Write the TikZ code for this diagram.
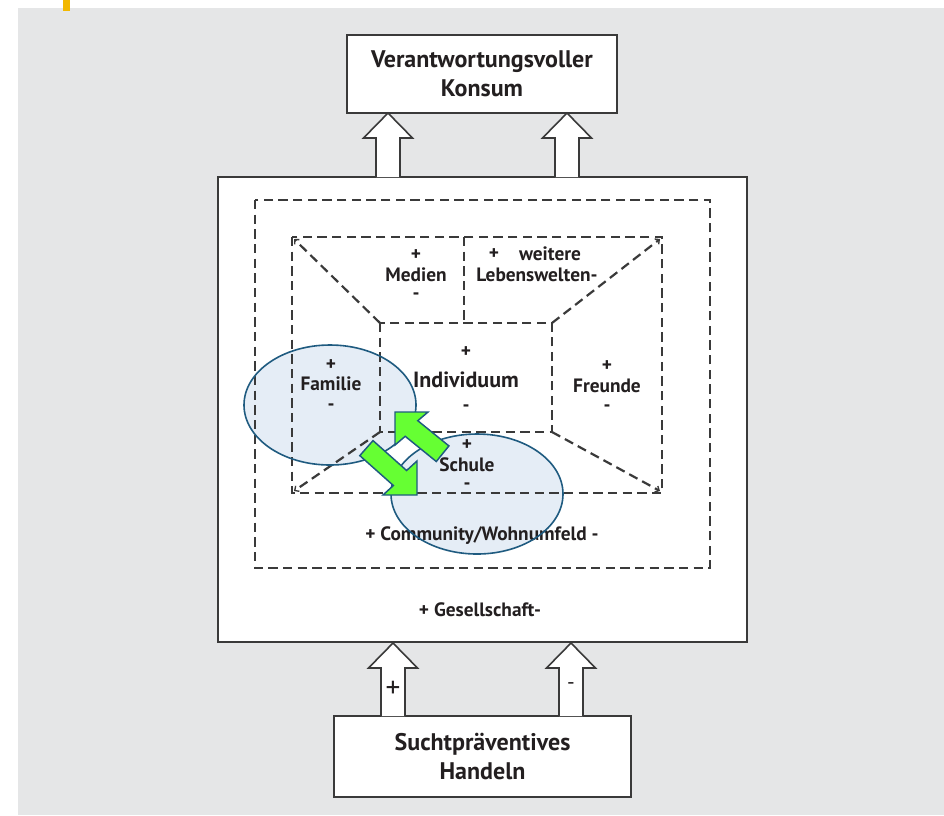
\documentclass[tikz,border=0pt]{standalone}
\usepackage{fontspec}
\setmainfont{PT Sans}
\usetikzlibrary{arrows.meta}
\definecolor{bgcol}{HTML}{E5E6E7}
\definecolor{yellowmark}{HTML}{F2B800}
\definecolor{ln}{HTML}{3A3A3A}
\definecolor{txt}{HTML}{231F20}
\definecolor{ellfill}{HTML}{E5EDF6}
\definecolor{elldraw}{HTML}{1F5B80}
\definecolor{grn}{HTML}{66FF33}
\tikzset{
  box/.style={draw=ln, line width=1.5pt, fill=white, inner sep=0pt},
  hollow/.style={draw=ln, line width=1.2pt, fill=white, line join=miter},
  dsh/.style={draw=ln, line width=1.65pt, dash pattern=on 7pt off 4pt},
  dtip/.style={-{Straight Barb[length=2.5pt,width=5pt,line width=1pt]}},
  title/.style={font=\bfseries\fontsize{18}{21.5}\selectfont, text=txt, align=center, inner sep=0pt},
  lab/.style={font=\bfseries\fontsize{14.5}{15}\selectfont, text=txt, inner sep=0pt},
  biglab/.style={font=\bfseries\fontsize{16.5}{17}\selectfont, text=txt, inner sep=0pt},
  ell/.style={draw=elldraw, line width=1.2pt},
  garrow/.style={draw=elldraw, line width=1.1pt, fill=grn, line join=miter}
}
\newcommand{\myhollow}[3]{% x, tip y, base y
  \draw[hollow] (#1-12,#3) -- (#1-12,#2+25) -- (#1-24.5,#2+25) -- (#1,#2) -- (#1+24.5,#2+25) -- (#1+12,#2+25) -- (#1+12,#3);
}
\begin{document}
\begin{tikzpicture}[x=0.75pt,y=-0.75pt]
\useasboundingbox (0,0) rectangle (944,815);
\fill[white] (0,0) rectangle (944,815);
\fill[bgcol] (18,8) rectangle (944,815);
\fill[yellowmark] (63,0) rectangle (70,11);

% boxes
\node[box, minimum width=202.5pt, minimum height=58.5pt] (konsum) at (482,74) {};
\node[title] (konsumtxt) at (482,74) {Verantwortungsvoller\\Konsum};
\node[box, minimum width=396.75pt, minimum height=348.75pt] (gesell) at (482.5,409.5) {};
\node[box, minimum width=222.75pt, minimum height=60.75pt] (sucht) at (482.5,756.5) {};
\node[title] (suchttxt) at (482.5,756.5) {Suchtpräventives\\Handeln};

% hollow arrows
\myhollow{388}{113}{177}
\myhollow{567}{113}{177}
\myhollow{393}{643}{716}
\myhollow{571}{643}{716}
\node[font=\fontsize{22}{22}\selectfont, text=txt, inner sep=0pt] (plus) at (393,689) {+};
\node[font=\fontsize{16}{16}\selectfont, text=txt, inner sep=0pt] (minus) at (571,686) {-};

% ellipse fills
\fill[ellfill] (330,405) ellipse [x radius=86, y radius=60];
\fill[ellfill] (477,494) ellipse [x radius=86, y radius=60];

% dashed structure
\draw[dsh] (255,200) rectangle (710,568);
\draw[dsh] (292,237) rectangle (662,493);
\draw[dsh] (380,323) rectangle (552,432);
\draw[dsh] (464,237) -- (464,323);
\draw[dsh,dtip] (380,323) -- (294,239);
\draw[dsh,dtip] (552,323) -- (660,239);
\draw[dsh,dtip] (380,432) -- (294,491);
\draw[dsh,dtip] (552,432) -- (660,491);

% labels
\node[lab] (m1) at (416,255) {+};
\node[lab] (m2) at (416,275) {Medien};
\node[lab] (m3) at (416,296) {-};
\node[lab] (w1) at (494,254) {+};
\node[lab] (w2) at (550,254) {weitere};
\node[lab] (w3) at (537,275) {Lebenswelten-};
\node[lab] (i1) at (466,352) {+};
\node[biglab] (i2) at (466,380) {Individuum};
\node[lab] (i3) at (466,408) {-};
\node[lab] (f1) at (331,365) {+};
\node[lab] (f2) at (331,384) {Familie};
\node[lab] (f3) at (331,407) {-};
\node[lab] (r1) at (607,366) {+};
\node[lab] (r2) at (607,386) {Freunde};
\node[lab] (r3) at (607,408) {-};
\node[lab] (s1) at (467,445) {+};
\node[lab] (s2) at (467,465) {Schule};
\node[lab] (s3) at (467,486) {-};
\node[lab] (comm) at (482,536) {+ Community/Wohnumfeld -};
\node[lab] (ges) at (480,610) {+ Gesellschaft-};

% ellipse borders
\draw[ell] (330,405) ellipse [x radius=86, y radius=60];
\draw[ell] (477,494) ellipse [x radius=86, y radius=60];

% green exchange arrows
\draw[garrow] (395,412) -- (428,412) -- (417.8,420.7) -- (448.9,445.9) -- (436.3,461.5) -- (405.2,436.3) -- (395,445) -- cycle;
\draw[garrow] (417,495) -- (417,461) -- (406.6,470.5) -- (373,440.6) -- (359.8,455.6) -- (393.4,485.5) -- (383,495) -- cycle;
\end{tikzpicture}
\end{document}
